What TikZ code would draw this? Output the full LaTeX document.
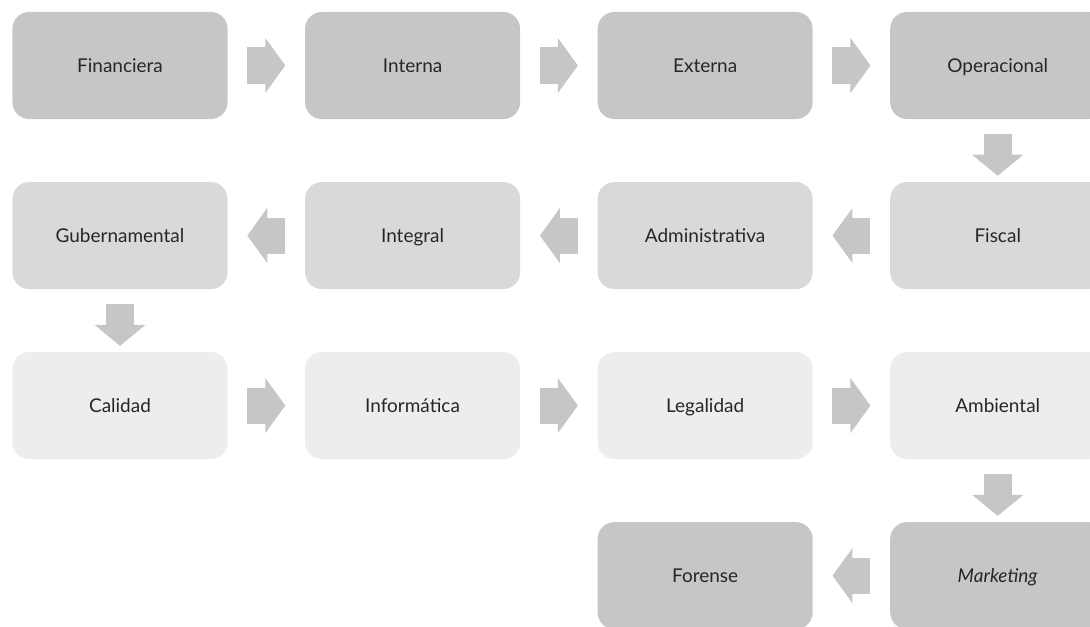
\documentclass[tikz,border=0pt]{standalone}
\usepackage{fontspec}
\setmainfont{Lato}
\usetikzlibrary{arrows.meta,positioning}

\definecolor{tonoA}{HTML}{C6C6C6}
\definecolor{tonoB}{HTML}{D9D9D9}
\definecolor{tonoC}{HTML}{EDEDED}
\definecolor{texto}{HTML}{262626}

\tikzset{
    caja/.style={rectangle, rounded corners=0.42cm, minimum width=5.375cm, minimum height=2.675cm,
        text height=1em, text depth=0pt, text=texto, font=\fontsize{13.5}{16}\selectfont},
    harrow/.style={draw=tonoA, line width=0.9cm, shorten <=0.4875cm, shorten >=0.4875cm,
        -{Triangle[length=0.5cm, width=1.375cm, line width=0.8pt 0, fill=tonoA]}},
    varrow/.style={draw=tonoA, line width=0.7cm, shorten <=0.375cm, shorten >=0.15cm,
        -{Triangle[length=0.525cm, width=1.275cm, line width=0.8pt 0, fill=tonoA]}}
}

\begin{document}
\begin{tikzpicture}[x=0.025cm, y=-0.025cm, node distance=7.3125cm, auto]
    \useasboundingbox (0,0) rectangle (1090,626);
    \clip (0,0) rectangle (1090,626);
    \node[caja, fill=tonoA] at (120,65.5) (fin) {Financiera};
    \node[caja, fill=tonoA, right of=fin] (int) {Interna};
    \node[caja, fill=tonoA, right of=int] (ext) {Externa};
    \node[caja, fill=tonoA, right of=ext] (ope) {Operacional};
    \node[caja, fill=tonoB, below of=ope, node distance=4.25cm] (fis) {Fiscal};
    \node[caja, fill=tonoB, left of=fis] (adm) {Administrativa};
    \node[caja, fill=tonoB, left of=adm] (itg) {Integral};
    \node[caja, fill=tonoB, left of=itg] (gub) {Gubernamental};
    \node[caja, fill=tonoC, below of=gub, node distance=4.25cm] (cal) {Calidad};
    \node[caja, fill=tonoC, right of=cal] (inf) {Informática};
    \node[caja, fill=tonoC, right of=inf] (leg) {Legalidad};
    \node[caja, fill=tonoC, right of=leg] (amb) {Ambiental};
    \node[caja, fill=tonoA, below of=amb, node distance=4.25cm] (mkt) {\textit{Marketing}};
    \node[caja, fill=tonoA, left of=mkt] (for) {Forense};

    \draw[harrow] (fin) -- (int);
    \draw[harrow] (int) -- (ext);
    \draw[harrow] (ext) -- (ope);
    \draw[varrow] (ope) -- (fis);
    \draw[harrow] (fis) -- (adm);
    \draw[harrow] (adm) -- (itg);
    \draw[harrow] (itg) -- (gub);
    \draw[varrow] (gub) -- (cal);
    \draw[harrow] (cal) -- (inf);
    \draw[harrow] (inf) -- (leg);
    \draw[harrow] (leg) -- (amb);
    \draw[varrow] (amb) -- (mkt);
    \draw[harrow] (mkt) -- (for);
\end{tikzpicture}
\end{document}
